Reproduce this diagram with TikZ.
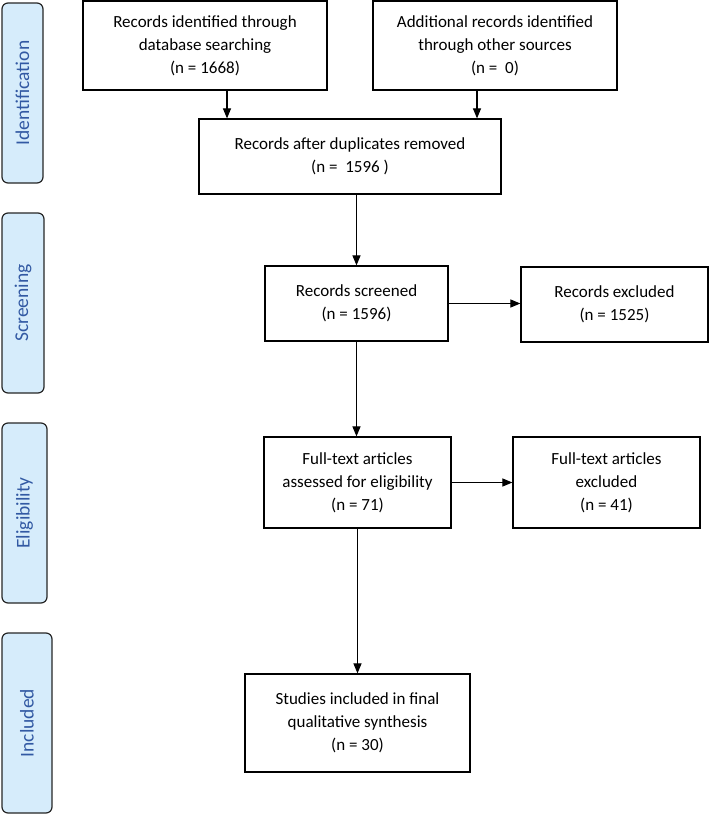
\documentclass[tikz,border=0pt]{standalone}
\usepackage{fontspec}
\setmainfont{Carlito}
\usetikzlibrary{arrows.meta}
\definecolor{tabfill}{HTML}{D6ECFB}
\definecolor{tabtext}{HTML}{3259A3}
\begin{document}
\begin{tikzpicture}[x=1pt,y=-1pt,
  box/.style={draw=black, line width=1.2pt, align=center, inner sep=0pt,
    font=\fontsize{17}{23}\selectfont},
  tab/.style={draw=black!85, fill=tabfill, rounded corners=6pt, line width=1.2pt,
    minimum height=180pt, inner sep=0pt},
  tablabel/.style={rotate=90, text=tabtext, font=\fontsize{19.5}{22}\selectfont},
  arr/.style={-{Triangle[length=10pt,width=8pt]}, line width=1.1pt}]
\useasboundingbox (0,0) rectangle (709,814);

% phase tabs
\node[tab, minimum width=41pt] (t1) at (22.5,93) {};
\node[tablabel] (l1) at (t1.center) {Identification};
\node[tab, minimum width=42pt] (t2) at (23,303) {};
\node[tablabel] (l2) at (t2.center) {Screening};
\node[tab, minimum width=45pt] (t3) at (24.5,513) {};
\node[tablabel] (l3) at (t3.center) {Eligibility};
\node[tab, minimum width=50pt] (t4) at (27,723) {};
\node[tablabel] (l4) at (t4.center) {Included};

% boxes
\node[box, minimum width=244pt, minimum height=89pt] (b1) at (205,45.5)
  {Records identified through\\database searching\\(n = 1668)};
\node[box, minimum width=244pt, minimum height=89pt] (b2) at (495,45.5)
  {Additional records identified\\through other sources\\(n = \ 0)};
\node[box, minimum width=302pt, minimum height=75pt] (b3) at (350,156.5)
  {Records after duplicates removed\\(n = \ 1596 )};
\node[box, minimum width=183pt, minimum height=75pt] (scr) at (356.5,303.5)
  {Records screened\\(n = 1596)};
\node[box, minimum width=187pt, minimum height=75pt] (exc) at (614.5,304.5)
  {Records excluded\\(n = 1525)};
\node[box, minimum width=187pt, minimum height=91pt] (ft) at (357.5,482.5)
  {Full-text articles\\assessed for eligibility\\(n = 71)};
\node[box, minimum width=187pt, minimum height=91pt] (fte) at (606.5,482.5)
  {Full-text articles\\excluded\\(n = 41)};
\node[box, minimum width=225pt, minimum height=98pt] (inc) at (357.5,723)
  {Studies included in final\\qualitative synthesis\\(n = 30)};

% connectors
\draw[arr] ([xshift=22pt]b1.south) -- ([xshift=22pt]b1.south |- b3.north);
\draw[arr] ([xshift=-18pt]b2.south) -- ([xshift=-18pt]b2.south |- b3.north);
\draw[arr] (b3.south -| scr.north) -- (scr.north);
\draw[arr] (scr.east) -- (scr.east -| exc.west);
\draw[arr] (scr.south) -- (scr.south |- ft.north);
\draw[arr] (ft.east) -- (fte.west);
\draw[arr] (ft.south) -- (inc.north);
\end{tikzpicture}
\end{document}
